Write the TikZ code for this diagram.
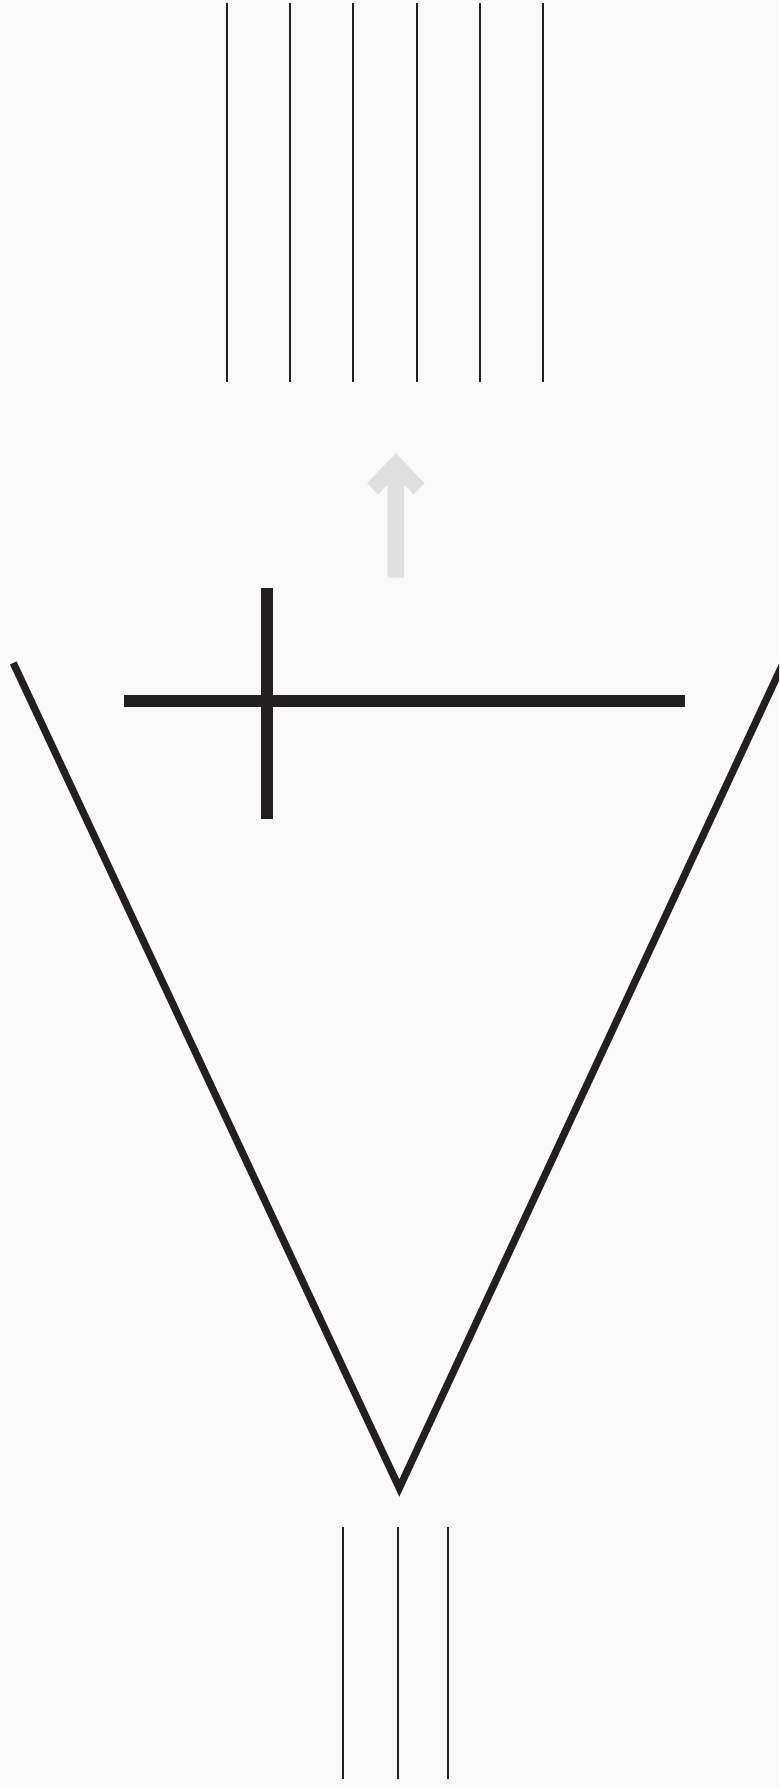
\documentclass[tikz,border=0pt]{standalone}
\usepackage{tikz}
\definecolor{bgcolor}{RGB}{249,249,249}
\definecolor{inkcolor}{RGB}{35,31,32}
\definecolor{arrowgrey}{RGB}{223,223,223}
\tikzset{
thinline/.style={
  draw=inkcolor,
  line width=2.2pt
},
crossbar/.style={
  draw=inkcolor,
  line width=12.3pt
},
funnelline/.style={
  draw=inkcolor,
  line width=7.3pt,
  line join=miter
},
uparrow/.style={
  fill=arrowgrey
}
}

\begin{document}
\begin{tikzpicture}[x=1pt,y=-1pt]
        \fill[bgcolor] (0,0) rectangle (779,1787);
        \useasboundingbox (0,0) rectangle (779,1787);
        \clip (0,0) rectangle (779,1787);

        \foreach \x in {226.7,290,353.3,416.7,480,543.3}
          \draw[thinline] (\x,3) -- (\x,381.7);

        \fill[uparrow] (395.8,453.3) -- (424.5,483.3) -- (413.5,494.3) -- (404,484.5)
          -- (404,577.7) -- (387.6,577.7) -- (387.6,484.5) -- (378.1,494.3)
          -- (367.1,483.3) -- cycle;

        \coordinate (barleft) at (124,700.7);
        \coordinate (barright) at (685,700.7);
        \coordinate (bartop) at (267.3,588.3);
        \coordinate (barbottom) at (267.3,819.3);
        \draw[crossbar] (barleft) -- (barright);
        \draw[crossbar] (bartop) -- (barbottom);

        \coordinate (funneltl) at (13.3,663);
        \coordinate (funneltip) at (399.3,1488);
        \coordinate (funneltr) at (787,655);
        \draw[funnelline] (funneltl) -- (funneltip) -- (funneltr);

        \foreach \x in {342.7,398.3,448.3}
          \draw[thinline] (\x,1527.3) -- (\x,1779.3);
      \end{tikzpicture}
\end{document}
